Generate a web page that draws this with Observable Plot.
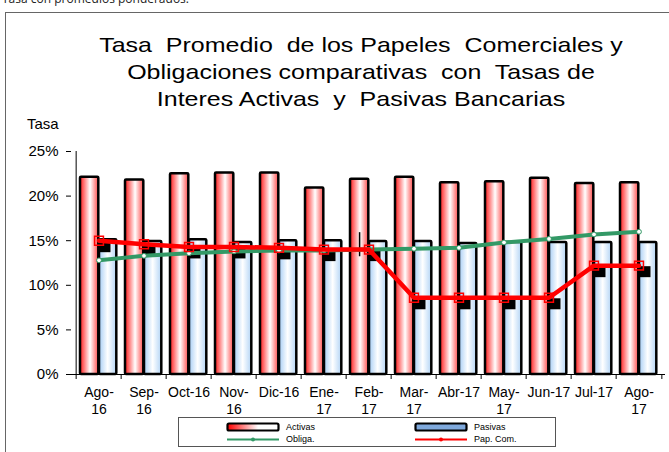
<!DOCTYPE html>
<html>
<head>
<meta charset="utf-8">
<script src="https://cdn.jsdelivr.net/npm/d3@7"></script>
<script src="https://cdn.jsdelivr.net/npm/@observablehq/plot@0.6"></script>
<style>
  html, body { margin: 0; padding: 0; background: #fff; }
  body { width: 669px; height: 452px; position: relative; overflow: hidden; font-family: "Liberation Sans", Arial, sans-serif; }
  #note { position: absolute; left: 2px; top: -9px; font-family: "Open Sans", sans-serif; font-size: 12px; line-height: 16px; color: #222; white-space: nowrap; }
  #frame { position: absolute; left: 5px; top: 12px; width: 700px; height: 500px; border-left: 1px solid #666; border-top: 1px solid #666; }
  #title { position: absolute; left: 61px; width: 600px; top: 31px; text-align: center; font-size: 21px; line-height: 27px; white-space: pre; color: #000; transform: scaleX(1.19); transform-origin: 50% 0; }
  #ylab { position: absolute; left: 27px; top: 115px; font-size: 15px; color: #000; }
  #chart { position: absolute; left: 0; top: 0; }
  #legend { position: absolute; left: 178px; top: 417px; width: 376px; height: 28px; border: 1px solid #555; font-size: 9px; color: #000; }
  .item { position: absolute; display: flex; align-items: center; height: 12px; }
  .item svg { margin-right: 6px; }
</style>
</head>
<body>
<div id="note">Tasa con promedios ponderados.</div>
<div id="frame"></div>
<div id="chart"></div>
<div id="title"></div>
<div id="ylab">Tasa</div>
<div id="legend"></div>
<script>
const months = ["Ago-16","Sep-16","Oct-16","Nov-16","Dic-16","Ene-17","Feb-17","Mar-17","Abr-17","May-17","Jun-17","Jul-17","Ago-17"];
const monthLabels = ["Ago-\n16","Sep-\n16","Oct-16","Nov-\n16","Dic-16","Ene-\n17","Feb-\n17","Mar-\n17","Abr-17","May-\n17","Jun-17","Jul-17","Ago-\n17"];
const activas = [22.1, 21.8, 22.5, 22.6, 22.6, 20.9, 21.9, 22.1, 21.5, 21.6, 22.0, 21.4, 21.5];
const pasivas = [15.1, 14.9, 15.1, 14.8, 15.0, 15.0, 14.9, 14.9, 14.7, 14.8, 14.8, 14.8, 14.8];
const obliga  = [12.8, 13.3, 13.6, 13.8, 13.9, 13.9, 14.0, 14.1, 14.2, 14.8, 15.2, 15.7, 16.0];
const papCom  = [15.0, 14.6, 14.3, 14.3, 14.2, 14.0, 14.0, 8.6, 8.6, 8.6, 8.6, 12.2, 12.2];
const yTicks = [0, 5, 10, 15, 20, 25];
const errBar = [{month: "Feb-17", lo: 13.2, hi: 15.9}];
const titleLines = ["Tasa  Promedio  de los Papeles  Comerciales y", "Obligaciones comparativas  con  Tasas de", "Interes Activas  y  Pasivas Bancarias"];
const seriesNames = ["Activas", "Pasivas", "Obliga.", "Pap. Com."];

document.getElementById("title").textContent = titleLines.join("\n");

const W = 669, H = 452, ML = 71, MR = 4, MT = 151, MB = 78;
const bw = (W - ML - MR) / months.length;
const labelMap = new Map(months.map((m, i) => [m, monthLabels[i]]));
const rows = months.map((m, i) => ({month: m, activas: activas[i], pasivas: pasivas[i], obliga: obliga[i], papCom: papCom[i]}));

const chart = Plot.plot({
  width: W, height: H,
  marginLeft: ML, marginRight: MR, marginTop: MT, marginBottom: MB,
  style: {fontFamily: "'Liberation Sans', Arial, sans-serif", color: "#000", background: "transparent", overflow: "visible"},
  x: {type: "band", domain: months, padding: 0},
  y: {domain: [0, 25]},
  marks: [
    Plot.barY(rows, {x: "month", y: "activas", fill: "url(#gradRed)", stroke: "#000", strokeWidth: 2.5, insetLeft: 4, insetRight: bw - 23, rx: 1}),
    Plot.barY(rows, {x: "month", y: "pasivas", fill: "url(#gradBlue)", stroke: "#000", strokeWidth: 2.5, insetLeft: 23, insetRight: 4.7, rx: 1}),
    Plot.ruleY([0], {stroke: "#000", strokeWidth: 1}),
    Plot.ruleX([months[0]], {y1: 0, y2: 25, dx: -bw / 2, stroke: "#000", strokeWidth: 1}),
    Plot.ruleX(months, {y1: 0, y2: 0, insetBottom: -5, dx: -bw / 2, stroke: "#000"}),
    Plot.ruleX([months[months.length - 1]], {y1: 0, y2: 0, insetBottom: -5, dx: bw / 2, stroke: "#000"}),
    Plot.ruleX(errBar, {x: "month", y1: "lo", y2: "hi", dx: -9.4, stroke: "#000", strokeWidth: 1.5}),
    Plot.dot(rows, {x: "month", y: "papCom", symbol: "square", r: 6.2, fill: "#000", dx: 6, dy: 6}),
    Plot.line(rows, {x: "month", y: "obliga", stroke: "#339966", strokeWidth: 4}),
    Plot.dot(rows, {x: "month", y: "obliga", r: 2.4, fill: "#fff", stroke: "#339966", strokeWidth: 1}),
    Plot.line(rows, {x: "month", y: "papCom", stroke: "#ff0000", strokeWidth: 4.5}),
    Plot.dot(rows, {x: "month", y: "papCom", symbol: "square", r: 5, fill: "none", stroke: "#ff0000", strokeWidth: 1.5}),
    Plot.axisY({ticks: yTicks, tickFormat: d => d + "%", tickSize: 5, tickPadding: 8, fontSize: 15, label: null}),
    Plot.axisX({tickSize: 0, tickPadding: 11, tickFormat: d => labelMap.get(d), fontSize: 14, lineHeight: 1.2, label: null})
  ]
});

// gradients
const svg = d3.select(chart);
const defs = svg.insert("defs", ":first-child");
const gR = defs.append("linearGradient").attr("id", "gradRed").attr("x1", "0").attr("x2", "1").attr("y1", "0").attr("y2", "0");
[["0%", "#ff1a1a"], ["55%", "#ffffff"], ["100%", "#ff4d4d"]].forEach(([o, c]) => gR.append("stop").attr("offset", o).attr("stop-color", c));
const gB = defs.append("linearGradient").attr("id", "gradBlue").attr("x1", "0").attr("x2", "1").attr("y1", "0").attr("y2", "0");
[["0%", "#a6cdf5"], ["50%", "#ffffff"], ["100%", "#b3d4f5"]].forEach(([o, c]) => gB.append("stop").attr("offset", o).attr("stop-color", c));

document.getElementById("chart").appendChild(chart);

// legend
const legend = document.getElementById("legend");
function swatch(kind) {
  if (kind === 0 || kind === 1) {
    const id = kind === 0 ? "lgR" : "lgB";
    const stops = kind === 0 ? [["0%", "#ff0000"], ["60%", "#ffffff"], ["100%", "#ffffff"]] : [["0%", "#7fa9dc"], ["100%", "#7fa9dc"]];
    return `<svg width="54" height="11"><defs><linearGradient id="${id}" x1="0" x2="1">${stops.map(s => `<stop offset="${s[0]}" stop-color="${s[1]}"/>`).join("")}</linearGradient></defs><rect x="1.5" y="1.5" width="51" height="7" rx="1.5" fill="url(#${id})" stroke="#000" stroke-width="2.2"/></svg>`;
  }
  const col = kind === 2 ? "#339966" : "#ff0000";
  return `<svg width="54" height="11"><line x1="1" x2="53" y1="5.5" y2="5.5" stroke="${col}" stroke-width="2.2"/><circle cx="27" cy="5.5" r="2" fill="${col}"/></svg>`;
}
const pos = [[47, 3], [235, 3], [47, 15], [235, 15]];
seriesNames.forEach((n, i) => {
  const d = document.createElement("div");
  d.className = "item";
  d.style.left = pos[i][0] + "px";
  d.style.top = pos[i][1] + "px";
  d.innerHTML = swatch(i) + `<span>${n}</span>`;
  legend.appendChild(d);
});
</script>
</body>
</html>
